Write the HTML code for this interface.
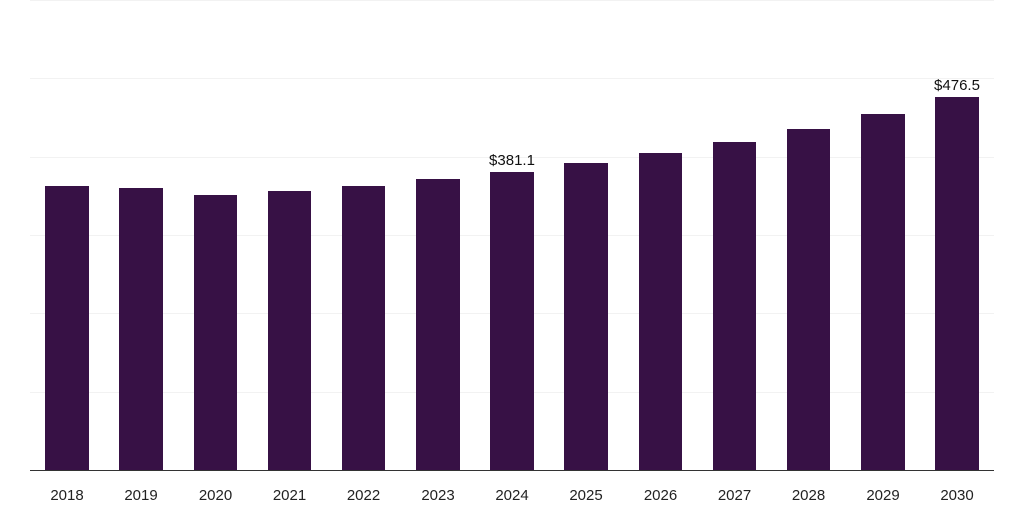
<!DOCTYPE html>
<html><head><style>body{margin:0;background:#fff}</style></head><body>
<svg width="1024" height="512" xmlns="http://www.w3.org/2000/svg" font-family="Liberation Sans, sans-serif">
<g stroke="#f2f2f2" stroke-width="1">
<line x1="30" x2="994" y1="0.5" y2="0.5"/>
<line x1="30" x2="994" y1="78.5" y2="78.5"/>
<line x1="30" x2="994" y1="157.5" y2="157.5"/>
<line x1="30" x2="994" y1="235.5" y2="235.5"/>
<line x1="30" x2="994" y1="313.5" y2="313.5"/>
<line x1="30" x2="994" y1="392.5" y2="392.5"/>
</g>
<g fill="#371145">
<rect x="45" y="186" width="44" height="284"/>
<rect x="119" y="188" width="44" height="282"/>
<rect x="194" y="195" width="43" height="275"/>
<rect x="268" y="191" width="43" height="279"/>
<rect x="342" y="186" width="43" height="284"/>
<rect x="416" y="179" width="44" height="291"/>
<rect x="490" y="172" width="44" height="298"/>
<rect x="564" y="163" width="44" height="307"/>
<rect x="639" y="153" width="43" height="317"/>
<rect x="713" y="142" width="43" height="328"/>
<rect x="787" y="129" width="43" height="341"/>
<rect x="861" y="114" width="44" height="356"/>
<rect x="935" y="97" width="44" height="373"/>
</g>
<line x1="30" x2="994" y1="470.5" y2="470.5" stroke="#333" stroke-width="1"/>
<g font-size="15" fill="#111" text-anchor="middle">
<text x="512" y="165">$381.1</text>
<text x="957" y="90">$476.5</text>
</g>
<g font-size="15" fill="#222" text-anchor="middle">
<text x="67" y="500">2018</text><text x="141" y="500">2019</text><text x="215.5" y="500">2020</text>
<text x="289.5" y="500">2021</text><text x="363.5" y="500">2022</text><text x="438" y="500">2023</text>
<text x="512" y="500">2024</text><text x="586" y="500">2025</text><text x="660.5" y="500">2026</text>
<text x="734.5" y="500">2027</text><text x="808.5" y="500">2028</text><text x="883" y="500">2029</text>
<text x="957" y="500">2030</text>
</g>
</svg>
</body></html>
